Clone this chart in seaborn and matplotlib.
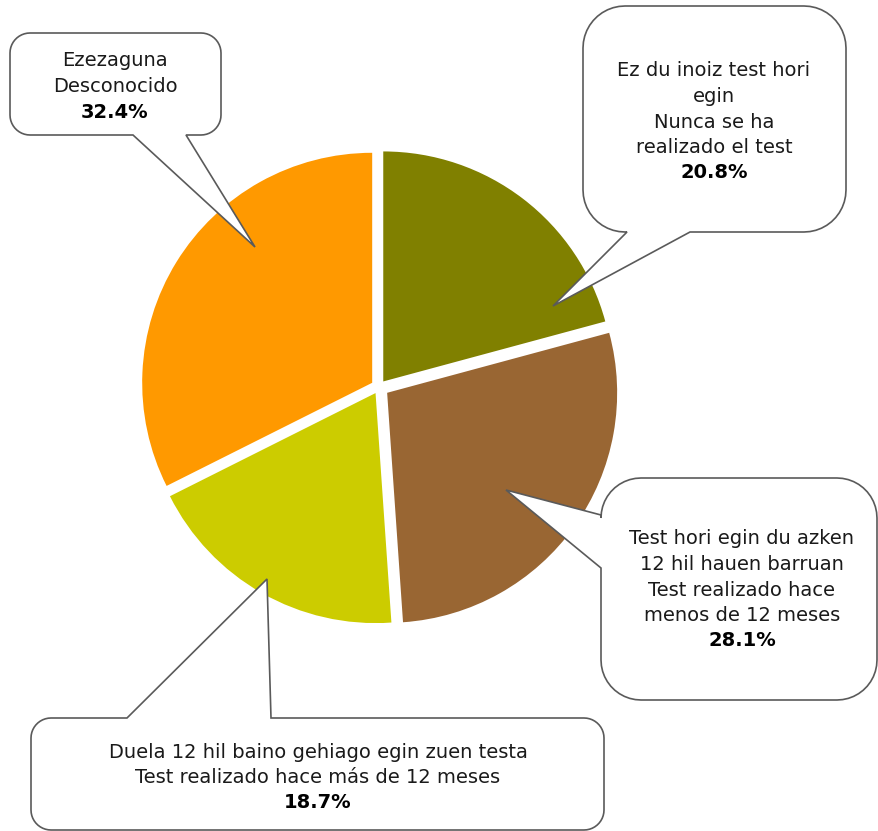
import numpy as np
import matplotlib.pyplot as plt
from matplotlib.patches import Polygon
import seaborn as sns

# Data
categories = ["never", "last_12", "more_12", "unknown"]
labels_eu = ["Ez du inoiz test hori\negin", "Test hori egin du azken\n12 hil hauen barruan",
             "Duela 12 hil baino gehiago egin zuen testa", "Ezezaguna"]
labels_es = ["Nunca se ha\nrealizado el test", "Test realizado hace\nmenos de 12 meses",
             "Test realizado hace más de 12 meses", "Desconocido"]
values = [20.8, 28.1, 18.7, 32.4]
colors = ["#808000", "#996633", "#CCCC00", "#FF9900"]

sns.set_theme(style="white")
plt.rcParams['font.family'] = ['DejaVu Sans']

W, H = 879, 831
fig = plt.figure(figsize=(W / 100, H / 100), dpi=100)
ax = fig.add_axes([0, 0, 1, 1])

# pie in pixel coordinates (y axis inverted -> counterclock in data is clockwise on screen)
# explode is in data units here, i.e. pixels
ax.pie(values, colors=colors, startangle=-90, counterclock=True,
       center=(379, 387), radius=230, explode=[7, 10, 7, 8],
       wedgeprops=dict(linewidth=0))
ax.set_aspect('auto')
ax.set_xlim(0, W)
ax.set_ylim(H, 0)
ax.axis('off')

EDGE = "#5a5a5a"


def bubble(x0, y0, x1, y1, r, side, t1, t2, tip):
    pts = []

    def arc(cx, cy, a0, a1):
        a = np.radians(np.linspace(a0, a1, 12))
        pts.extend(zip(cx + r * np.cos(a), cy + r * np.sin(a)))

    pts.append((x0 + r, y0))
    if side == "top":
        pts += [(t1, y0), tip, (t2, y0)]
    pts.append((x1 - r, y0))
    arc(x1 - r, y0 + r, -90, 0)
    pts.append((x1, y1 - r))
    arc(x1 - r, y1 - r, 0, 90)
    if side == "bottom":
        pts += [(t2, y1), tip, (t1, y1)]
    pts.append((x0 + r, y1))
    arc(x0 + r, y1 - r, 90, 180)
    if side == "left":
        pts += [(x0, t2), tip, (x0, t1)]
    pts.append((x0, y0 + r))
    arc(x0 + r, y0 + r, 180, 270)
    ax.add_patch(Polygon(pts, closed=True, fc="white", ec=EDGE, lw=1.2, zorder=5))


def box_text(cx, y_first, lines, pct, step=25.5):
    for i, line in enumerate(lines):
        ax.text(cx, y_first + i * step, line, ha="center", va="center",
                fontsize=14, color="#1a1a1a", zorder=6)
    ax.text(cx, y_first + len(lines) * step, f"{pct:.1f}%", ha="center", va="center",
            fontsize=14, fontweight="bold", color="black", zorder=6)


# callouts
bubble(583, 6, 846, 232, 42, "bottom", 627, 690, (553, 306))
bubble(601, 478, 877, 700, 40, "left", 515, 568, (506, 490))
bubble(31, 718, 604, 830, 20, "top", 127, 271, (267, 579))
bubble(10, 33, 221, 135, 20, "bottom", 133, 186, (255, 247))

centers = [(714, 71), (742, 539), (318, 752), (115, 61)]
for (cx, cy), eu, es, v in zip(centers, labels_eu, labels_es, values):
    lines = eu.split("\n") + es.split("\n")
    box_text(cx, cy, lines, v)

fig.savefig("out.png", dpi=100)
